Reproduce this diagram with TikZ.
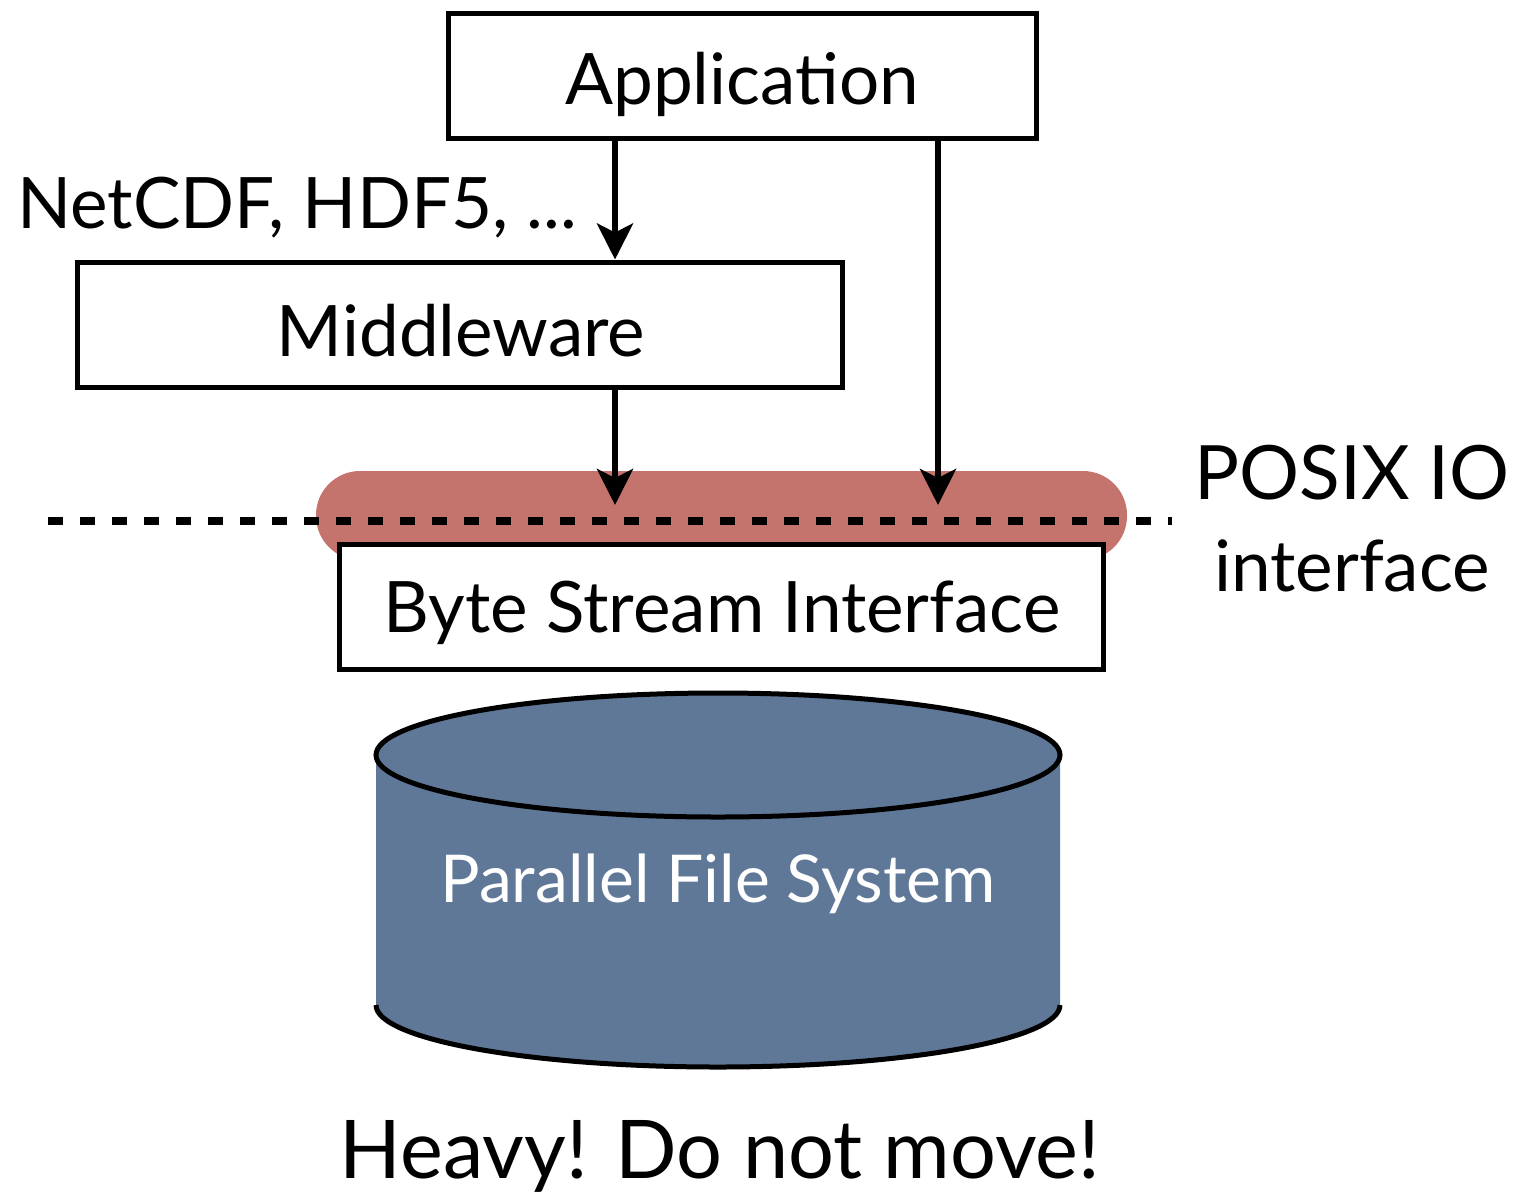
\documentclass[tikz,border=0pt]{standalone}
\usepackage{fontspec}
\setmainfont{Lato}
\usetikzlibrary{arrows.meta,shapes.geometric}
\definecolor{posixred}{HTML}{C5736D}
\definecolor{fsblue}{HTML}{5F7898}
\begin{document}
\begin{tikzpicture}[x=1pt,y=-1pt,
  layerbox/.style={draw=black,line width=5pt,fill=white,inner sep=0pt},
  flow/.style={line width=6pt,-{Stealth[length=36pt,width=36pt,inset=9pt]}},
  bigtext/.style={font=\fontsize{71}{84}\selectfont},
]
\useasboundingbox (0,0) rectangle (1538,1197);
% red POSIX band
\fill[posixred,rounded corners=44pt] (316,471) rectangle (1127,560);
% dashed line
\coordinate (dl) at (48,521);
\coordinate (dr) at (1172,521);
\draw[line width=8pt,dash pattern=on 15pt off 17pt] (dl) -- (dr);
% boxes
\node[layerbox,minimum width=588pt,minimum height=125pt] (app) at (742,75.5) {};
\node[bigtext,anchor=center] (apptxt) at (742,84) {Application};
\node[layerbox,minimum width=765pt,minimum height=125pt] (mid) at (459.5,324.5) {};
\node[bigtext] (midtxt) at (461,331) {Middleware};
\node[layerbox,minimum width=764pt,minimum height=125pt] (bsi) at (721,606.5) {};
\node[bigtext] (bsitxt) at (722,613) {Byte Stream Interface};
% labels
\node[bigtext,anchor=west] (netcdf) at (14,208) {NetCDF, HDF5, ...};
\node[font=\fontsize{75}{84}\selectfont] (posix1) at (1352,473) {POSIX IO};
\node[bigtext] (posix2) at (1352,566) {interface};
% arrows
\coordinate (a1s) at (615,138);
\coordinate (a2e) at (615,505);
\coordinate (a3s) at (938,140);
\coordinate (a3e) at (938,505);
\draw[flow] (a1s) -- (mid.north -| a1s);
\draw[flow] (mid.south -| a1s) -- (a2e);
\draw[flow] (a3s) -- (a3e);
% cylinder
\fill[fsblue] (376,755) -- (376,1005) arc[start angle=180,end angle=0,x radius=342,y radius=62] -- (1060,755) -- cycle;
\draw[line width=5pt] (376,1005) arc[start angle=180,end angle=0,x radius=342,y radius=62];
\node[draw=black,line width=5pt,fill=fsblue,ellipse,minimum width=684pt,minimum height=124pt,inner sep=0pt] (top) at (718,755) {};
\node[font=\fontsize{66}{76}\selectfont,text=white] (pfs) at (718,884) {Parallel File System};
\node[font=\fontsize{81}{90}\selectfont] (heavy) at (720,1156) {Heavy! Do not move!};
\end{tikzpicture}
\end{document}
